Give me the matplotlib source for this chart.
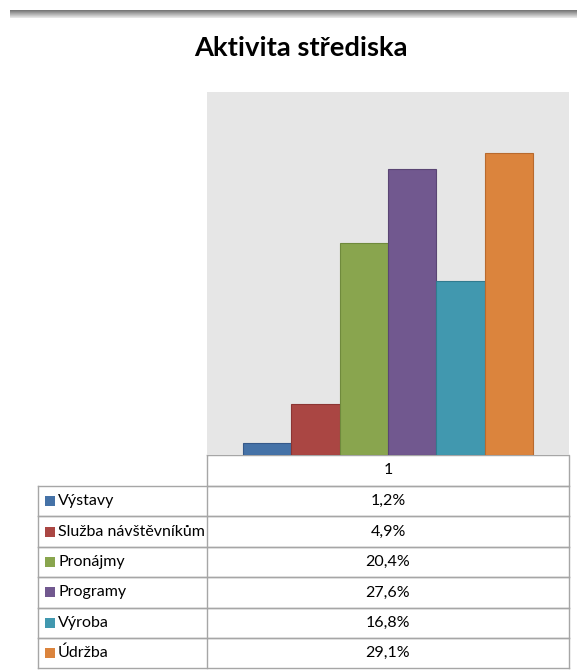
import numpy as np
import matplotlib.pyplot as plt

# data
categories = ["Výstavy", "Služba návštěvníkům", "Pronájmy", "Programy", "Výroba", "Údržba"]
values = [1.2, 4.9, 20.4, 27.6, 16.8, 29.1]
colors = ["#4572A7", "#AA4643", "#89A54E", "#71588F", "#4198AF", "#DB843D"]
edges = ["#35598A", "#8C3533", "#6F8A3C", "#5A4573", "#317B8F", "#B86A2E"]
header = "1"
title = "Aktivita střediska"

W, H = 577, 670
plt.rcParams['font.family'] = ['Lato', 'DejaVu Sans']
fig = plt.figure(figsize=(W / 100, H / 100), dpi=100)

# full-figure overlay in pixel coords
bg = fig.add_axes([0, 0, 1, 1])
bg.set_xlim(0, W)
bg.set_ylim(H, 0)
bg.axis("off")

# top shadow bar
grad = np.linspace(0.45, 0.92, 20).reshape(-1, 1)
bg.imshow(grad, cmap="gray", vmin=0, vmax=1, extent=[10, W, 18, 10], aspect="auto")

bg.text(301, 48, title, ha="center", va="center", fontsize=19.7, fontweight="bold")

# bar chart area
x0, x1, ytop, ybot = 207, 569, 92, 455
ax = fig.add_axes([x0 / W, 1 - ybot / H, (x1 - x0) / W, (ybot - ytop) / H])
ax.set_facecolor("#E6E6E6")
for i, (v, c, e) in enumerate(zip(values, colors, edges)):
    ax.bar(i, v, width=1, align="edge", color=c, edgecolor=e, linewidth=0.8)
ax.set_xlim(-0.74, 6.74)
ax.set_ylim(0, 35)
ax.set_xticks([])
ax.set_yticks([])
for s in ax.spines.values():
    s.set_visible(False)

# data table
lc = "#A6A6A6"
lx0 = 38
row_h = 30.4
rows_top = 486
fs = 11.5
bg.plot([x0, x1, x1, x0, x0], [ybot, ybot, rows_top, rows_top, ybot], color=lc, lw=1)
bg.text((x0 + x1) / 2, (ybot + rows_top) / 2, header, ha="center", va="center", fontsize=fs)
for k, (name, v, c) in enumerate(zip(categories, values, colors)):
    yt = rows_top + k * row_h
    yb = yt + row_h
    bg.plot([lx0, x1], [yb, yb], color=lc, lw=1)
    bg.plot([lx0, x1], [yt, yt], color=lc, lw=1)
    ym = (yt + yb) / 2
    bg.add_patch(plt.Rectangle((45, ym - 5), 10, 10, facecolor=c, edgecolor="none"))
    bg.text(58, ym, name, ha="left", va="center", fontsize=fs)
    bg.text((x0 + x1) / 2, ym, f"{v:.1f}%".replace(".", ","), ha="center", va="center", fontsize=fs)
yend = rows_top + len(categories) * row_h
bg.plot([lx0, lx0], [rows_top, yend], color=lc, lw=1)
bg.plot([x0, x0], [rows_top, yend], color=lc, lw=1)
bg.plot([x1, x1], [rows_top, yend], color=lc, lw=1)

fig.savefig("out.png", dpi=100)
